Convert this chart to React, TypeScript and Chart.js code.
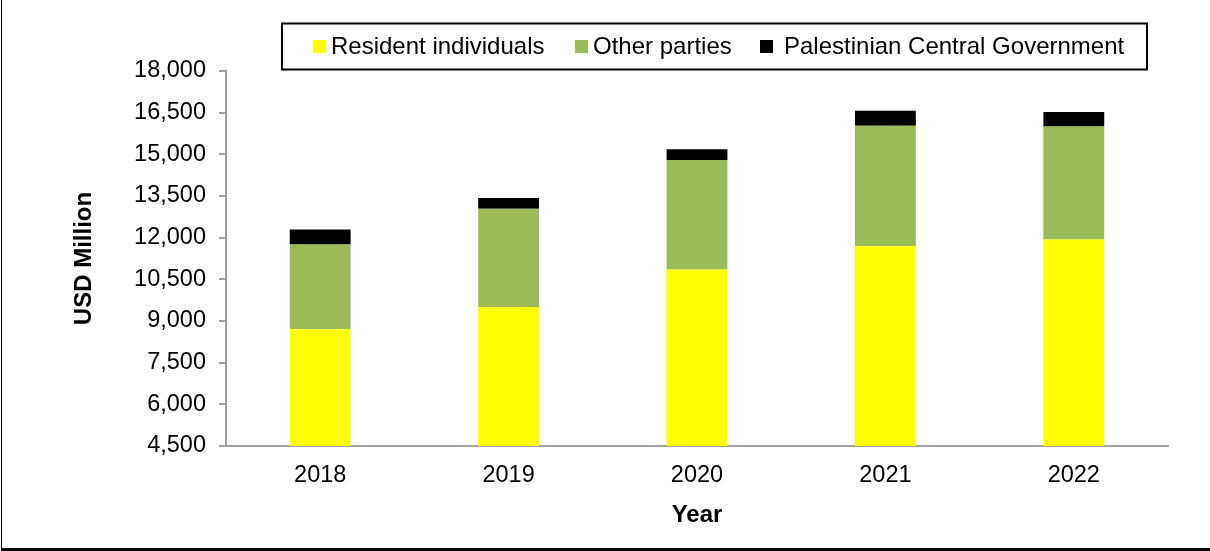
import React, { useEffect, useRef } from "react";
import { Chart, registerables } from "chart.js";

Chart.register(...registerables);

const years = ["2018", "2019", "2020", "2021", "2022"];
const residentIndividuals = [8700, 9500, 10850, 11690, 11930];
const otherParties = [3050, 3540, 3950, 4340, 4070];
const centralGovernment = [540, 390, 385, 540, 520];
const seriesNames = ["Resident individuals", "Other parties", "Palestinian Central Government"];
const seriesColors = ["#FFFF00", "#9BBB59", "#000000"];
const yMin = 4500;
const yMax = 18000;
const yStep = 1500;

const FONT = "'Liberation Sans', Arial, sans-serif";

const boxLegend = {
  id: "boxLegend",
  afterDraw(chart: any) {
    const ctx = chart.ctx;
    ctx.save();
    ctx.strokeStyle = "#000";
    ctx.lineWidth = 2;
    ctx.strokeRect(282, 23.5, 865, 46);
    const squareX = [313, 575, 760];
    const textGap = [5, 5, 11];
    ctx.font = `24px ${FONT}`;
    ctx.textBaseline = "middle";
    ctx.textAlign = "left";
    chart.data.datasets.forEach((ds: any, i: number) => {
      ctx.fillStyle = ds.backgroundColor;
      ctx.fillRect(squareX[i], 40, 13, 13);
      ctx.fillStyle = "#000";
      ctx.fillText(ds.label, squareX[i] + 13 + textGap[i], 47);
    });
    ctx.restore();
  },
};

export default function App() {
  const canvasRef = useRef<HTMLCanvasElement>(null);

  useEffect(() => {
    if (!canvasRef.current) return;
    const datasetsData = [residentIndividuals, otherParties, centralGovernment];
    const chart = new Chart(canvasRef.current, {
      type: "bar",
      data: {
        labels: years,
        datasets: datasetsData.map((d, i) => ({
          label: seriesNames[i],
          data: d,
          backgroundColor: seriesColors[i],
          borderWidth: 0,
          barPercentage: 0.323,
          categoryPercentage: 1,
        })),
      },
      plugins: [boxLegend],
      options: {
        animation: false,
        responsive: true,
        maintainAspectRatio: false,
        layout: { padding: { top: 71, right: 42, bottom: 0, left: 0 } },
        plugins: {
          legend: { display: false },
          tooltip: { enabled: false },
        },
        scales: {
          x: {
            stacked: true,
            grid: { display: false, drawTicks: false },
            border: { display: true, color: "#a0a0a0", width: 2 },
            ticks: { color: "#000", font: { family: FONT, size: 23.5 }, padding: 15 },
            title: {
              display: true,
              text: "Year",
              color: "#000",
              font: { family: FONT, size: 24, weight: "bold" },
              padding: { top: 0, bottom: 21 },
            },
            afterFit: (s: any) => {
              s.height = 105;
            },
          },
          y: {
            stacked: true,
            min: yMin,
            max: yMax,
            grid: {
              display: true,
              drawOnChartArea: false,
              drawTicks: true,
              tickLength: 7,
              color: "#a0a0a0",
              lineWidth: 2,
            },
            border: { display: true, color: "#a0a0a0", width: 2 },
            ticks: {
              stepSize: yStep,
              color: "#000",
              font: { family: FONT, size: 23.5 },
              padding: 13,
            },
            title: {
              display: true,
              text: "USD Million",
              color: "#000",
              font: { family: FONT, size: 24, weight: "bold" },
              padding: { top: 70, bottom: 0 },
            },
            afterFit: (s: any) => {
              s.width = 226;
            },
          },
        },
      },
    });
    return () => chart.destroy();
  }, []);

  return (
    <div
      style={{
        position: "fixed",
        left: 0,
        top: 0,
        width: 1210,
        height: 551,
        background: "#fff",
        overflow: "hidden",
      }}
    >
      <div
        style={{
          position: "absolute",
          left: 1,
          top: 0,
          width: 1209,
          height: 548,
          borderLeft: "1px solid #000",
          borderBottom: "3px solid #000",
          boxSizing: "content-box",
        }}
      />
      <div style={{ position: "absolute", left: 0, top: 0, width: 1210, height: 551 }}>
        <canvas ref={canvasRef} />
      </div>
    </div>
  );
}
